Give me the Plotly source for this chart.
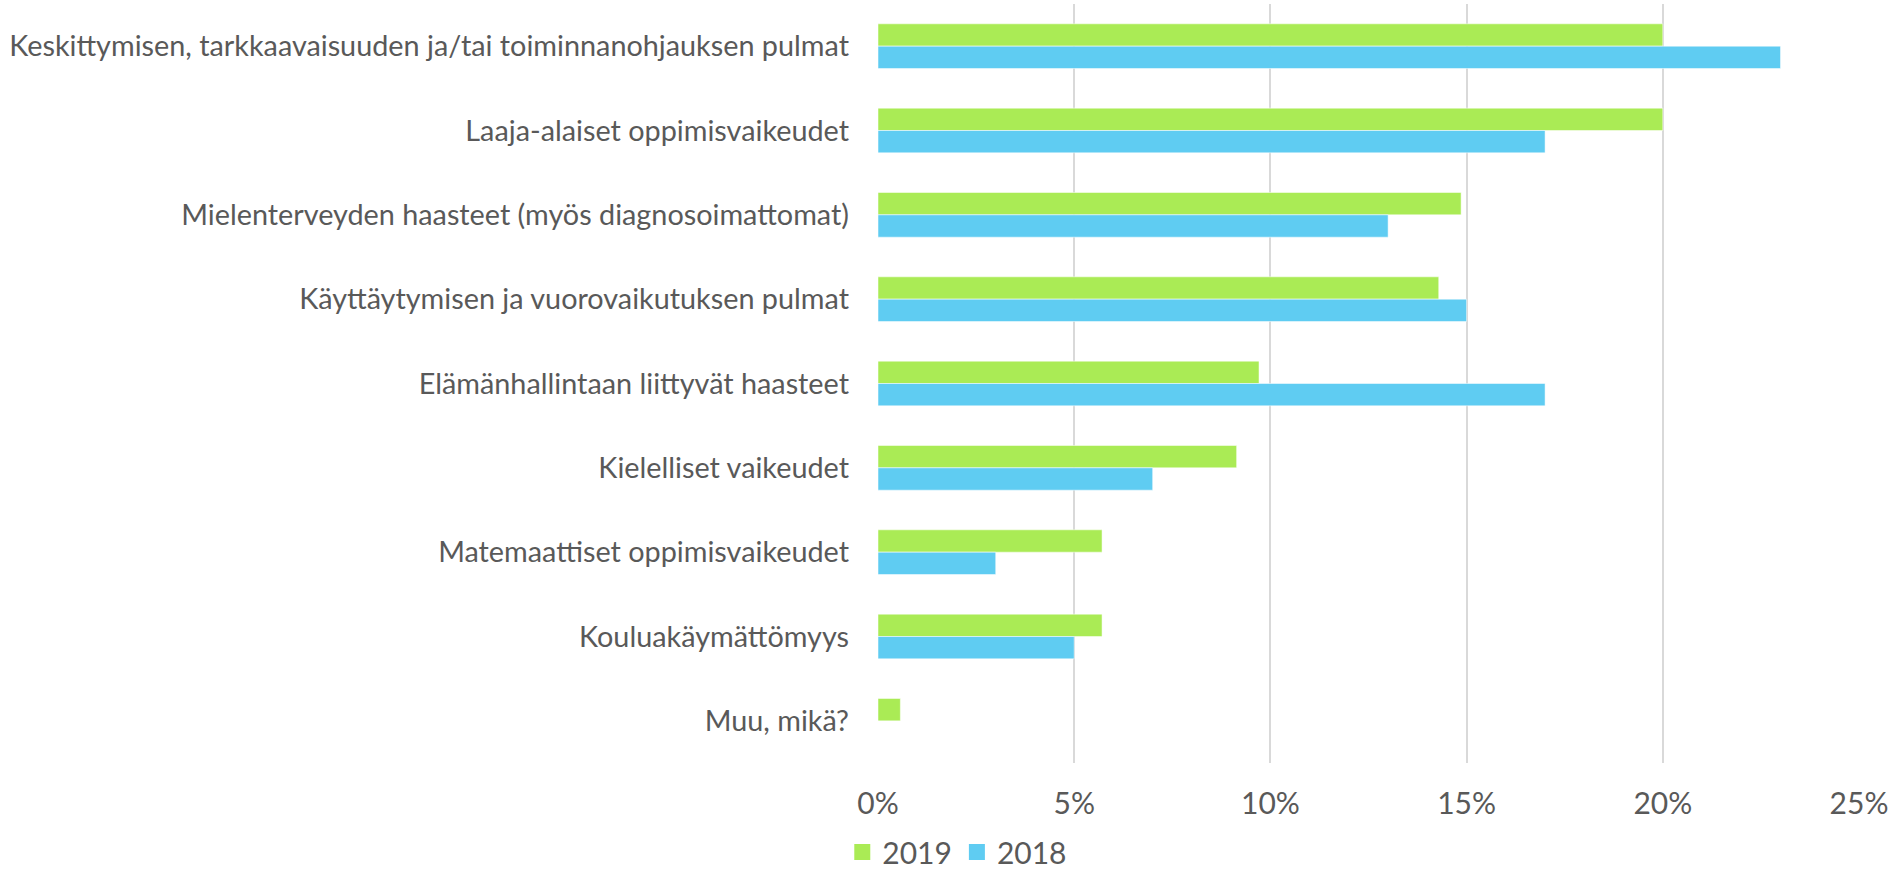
import plotly.graph_objects as go

categories = [
    "Keskittymisen, tarkkaavaisuuden ja/tai toiminnanohjauksen pulmat",
    "Laaja-alaiset oppimisvaikeudet",
    "Mielenterveyden haasteet (myös diagnosoimattomat)",
    "Käyttäytymisen ja vuorovaikutuksen pulmat",
    "Elämänhallintaan liittyvät haasteet",
    "Kielelliset vaikeudet",
    "Matemaattiset oppimisvaikeudet",
    "Kouluakäymättömyys",
    "Muu, mikä?",
]
values_2019 = [0.2000, 0.2000, 0.1486, 0.1429, 0.0971, 0.0914, 0.0571, 0.0571, 0.0057]
values_2018 = [0.23, 0.17, 0.13, 0.15, 0.17, 0.07, 0.03, 0.05, 0.0]
x_ticks = [0, 0.05, 0.10, 0.15, 0.20, 0.25]
series_names = ["2019", "2018"]

GREEN = "#AAEB55"
BLUE = "#5FCCF2"
TEXT = "#595959"
colors = [GREEN, BLUE]

fig = go.Figure()
for name, vals, col in zip(series_names, [values_2019, values_2018], colors):
    fig.add_trace(go.Bar(
        name=name, y=categories, x=vals, orientation="h", showlegend=False,
        marker=dict(color=col, line=dict(color="rgba(255,255,255,0.5)", width=1)),
    ))
# legend-only entries with larger square symbols
for name, col in zip(series_names, colors):
    fig.add_trace(go.Scatter(
        name=name, x=[None], y=[None], mode="markers",
        marker=dict(symbol="square", size=16, color=col),
        showlegend=True, hoverinfo="skip",
    ))

fig.update_layout(
    width=1890, height=872,
    margin=dict(l=878, r=31, t=4, b=109),
    paper_bgcolor="white", plot_bgcolor="white",
    barmode="group", bargap=0.47, bargroupgap=0,
    font=dict(family="Lato", color=TEXT, size=30),
    showlegend=True,
    legend=dict(
        orientation="h", xref="container", yref="container",
        x=0.5065, xanchor="center", y=0.0229, yanchor="middle",
        font=dict(family="Lato", size=30, color=TEXT),
        itemwidth=30, tracegroupgap=0,
    ),
    xaxis=dict(
        range=[0, 0.25], tickvals=x_ticks, tickformat=".0%",
        showgrid=True, gridcolor="#D9D9D9", gridwidth=2,
        zeroline=False, showline=False, ticks="", automargin=False,
        ticklabelstandoff=20,
        tickfont=dict(family="Lato", size=30, color=TEXT),
    ),
    yaxis=dict(
        autorange="reversed", showgrid=False, zeroline=False, showline=False,
        ticks="", ticklabelstandoff=28, automargin=False,
        tickfont=dict(family="Lato", size=28.8, color=TEXT),
    ),
)

fig.write_html(
    "out.html",
    config={"displayModeBar": False},
    post_script="document.body.style.margin='0';",
)
